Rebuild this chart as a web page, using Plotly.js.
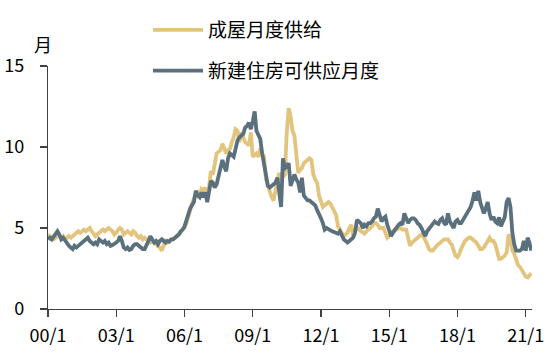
<!DOCTYPE html>
<html>
<head>
<meta charset="utf-8">
<script src="https://cdn.plot.ly/plotly-3.0.1.min.js"></script>
<style>html,body{margin:0;padding:0;background:#fff;}#chart{width:560px;height:356px;}</style>
</head>
<body>
<div id="chart"></div>
<script>
// Monthly data, 2000-01 .. 2021-04
var startYear = 2000;
var existingSupply = [ // 成屋月度供给
  4.6, 4.5, 4.4, 4.3, 4.4, 4.5, 4.5, 4.4, 4.5, 4.3, 4.4, 4.5,
  4.4, 4.5, 4.6, 4.7, 4.8, 4.7, 4.8, 4.9, 4.8, 4.9, 5.0, 4.8,
  4.6, 4.5, 4.6, 4.7, 4.8, 4.9, 4.8, 4.9, 5.0, 4.9, 4.8, 4.6,
  4.7, 4.9, 5.0, 4.9, 4.6, 4.7, 4.8, 4.7, 4.6, 4.8, 4.7, 4.5,
  4.4, 4.5, 4.3, 4.4, 4.3, 4.2, 4.1, 4.2, 4.1, 4.0, 3.9, 3.8,
  3.6, 3.9, 4.2, 4.1, 4.2, 4.3, 4.3, 4.4, 4.5, 4.6, 4.7, 4.9,
  5.0, 5.3, 5.8, 6.1, 6.5, 6.8, 7.1, 7.2, 7.0, 7.4, 7.3, 7.5,
  6.8, 7.6, 8.5, 8.3, 8.9, 9.6, 9.7, 9.8, 10.2, 9.9, 9.6, 9.8,
  9.9, 10.3, 10.6, 11.1, 11.0, 10.3, 10.9, 10.6, 10.3, 10.2, 10.1, 10.9,
  9.4, 9.5, 9.6, 9.4, 9.9, 9.6, 9.4, 8.0, 7.6, 7.2, 6.9, 6.7,
  7.3, 8.0, 8.4, 8.0, 8.2, 8.3, 10.9, 12.4, 11.9, 11.0, 10.7, 9.6,
  8.4, 8.6, 8.7, 9.0, 9.1, 9.2, 9.3, 9.2, 8.3, 8.0, 7.8, 7.0,
  6.6, 6.3, 6.4, 6.5, 6.6, 6.5, 6.3, 6.1, 5.8, 5.1, 4.9, 4.6,
  4.5, 4.6, 4.7, 5.0, 5.2, 4.5, 4.8, 5.1, 4.9, 4.8, 4.7, 4.65,
  4.8, 4.9, 5.0, 5.1, 5.3, 5.3, 5.2, 5.0, 5.0, 5.0, 4.7, 4.4,
  4.5, 4.6, 4.8, 4.9, 4.9, 5.0, 5.0, 4.9, 4.9, 4.9, 4.4, 3.9,
  4.1, 4.2, 4.3, 4.4, 4.5, 4.6, 4.5, 4.3, 4.0, 3.7, 3.6, 3.6,
  3.8, 3.9, 4.0, 4.1, 4.2, 4.3, 4.3, 4.3, 4.1, 4.0, 3.6, 3.3,
  3.2, 3.4, 3.7, 4.0, 4.2, 4.3, 4.4, 4.4, 4.3, 4.2, 4.1, 3.9,
  3.7, 3.7, 3.8, 4.0, 4.2, 4.4, 4.2, 4.2, 4.0, 3.6, 3.1, 3.1,
  3.2, 3.3, 3.5, 4.6, 4.3, 3.6, 3.4, 3.0, 2.7, 2.6, 2.4, 2.1,
  2.0, 1.95, 2.1, 2.2
];
var newSupply = [ // 新建住房可供应月度
  4.3, 4.4, 4.3, 4.5, 4.6, 4.8, 4.6, 4.3, 4.4, 4.2, 4.1, 3.9,
  3.8, 3.7, 3.9, 3.8, 3.9, 4.0, 4.1, 4.2, 4.3, 4.4, 4.2, 4.1,
  4.0, 4.1, 4.0, 4.3, 4.2, 4.1, 4.2, 4.0, 4.1, 3.9, 3.95, 4.0,
  4.1, 4.2, 4.5, 4.2, 3.8, 3.7, 3.8, 3.65, 3.7, 3.9, 4.0, 4.0,
  3.9, 3.8, 3.7, 3.7, 3.9, 4.2, 4.5, 4.3, 4.1, 4.2, 4.0, 4.2,
  4.3, 4.2, 4.1, 4.2, 4.15, 4.3, 4.3, 4.4, 4.5, 4.6, 4.8, 4.9,
  5.1, 5.5, 6.0, 6.2, 6.4, 6.6, 7.3, 7.0, 6.9, 7.2, 6.9, 7.2,
  6.6, 7.4, 7.9, 7.8, 7.5, 7.7, 8.2, 8.6, 9.2, 8.8, 8.5, 9.3,
  9.6, 9.5, 9.4, 9.9, 10.4, 10.6, 10.7, 10.8, 11.2, 11.3, 11.5, 11.1,
  11.6, 12.2, 11.0, 10.8, 10.5, 9.6, 9.0, 8.4, 7.6, 7.5, 7.6, 7.7,
  7.8, 8.1, 7.3, 6.3, 9.3, 8.7, 8.8, 9.0, 7.6, 8.0, 8.3, 8.0,
  7.8, 7.2, 8.1, 7.0, 6.8, 6.7, 6.7, 6.6, 6.5, 6.4, 6.1, 5.9,
  5.6, 5.3, 4.9, 5.0, 4.9, 4.85, 4.8, 4.75, 4.7, 4.65, 4.8, 4.5,
  4.3, 4.2, 4.1, 4.2, 4.3, 4.4, 4.7, 5.5, 5.4, 5.3, 5.0, 5.2,
  5.1, 5.3, 5.3, 5.4, 5.6, 5.7, 6.2, 5.8, 5.4, 5.6, 5.7, 5.2,
  4.9, 4.5, 4.7, 4.9, 5.1, 5.2, 5.3, 5.2, 5.9, 5.6, 5.3, 5.5,
  5.6, 5.6, 5.5, 5.3, 5.2, 5.0, 4.8, 4.5, 4.8, 5.0, 5.1, 5.25,
  5.4, 5.3, 5.25, 5.5, 5.6, 5.3, 5.2, 5.9, 5.4, 5.2, 5.0, 5.4,
  5.5, 5.3, 5.3, 5.5, 5.7, 6.0, 6.2, 6.3, 6.7, 7.2, 6.7, 7.3,
  6.6, 6.3, 5.9, 6.2, 6.6, 5.9, 5.5, 5.7, 5.4, 5.3, 5.65, 5.1,
  5.4, 5.7, 6.6, 6.85, 6.3, 4.7, 4.0, 3.6, 3.6, 3.6, 3.7, 4.2,
  3.6, 4.4, 4.1, 3.6
];
var seriesNames = ['成屋月度供给', '新建住房可供应月度'];
var tickDates = ['2000-01-01','2003-01-01','2006-01-01','2009-01-01','2012-01-01','2015-01-01','2018-01-01','2021-01-01'];
var tickLabels = ['00/1','03/1','06/1','09/1','12/1','15/1','18/1','21/1'];
var yTicks = [0, 5, 10, 15];
var yUnit = '月';

function monthDates(n) {
  var out = [];
  for (var i = 0; i < n; i++) {
    var y = startYear + Math.floor(i / 12);
    var m = (i % 12) + 1;
    out.push(y + '-' + (m < 10 ? '0' + m : m) + '-01');
  }
  return out;
}
var dates = monthDates(newSupply.length);

var FONT = '"Noto Sans CJK SC", "Noto Sans", sans-serif';

var traces = [
  {x: dates, y: existingSupply, name: seriesNames[0], type: 'scatter', mode: 'lines',
   line: {color: '#E2C47C', width: 3.8}, legendgroup: 'a'},
  {x: dates, y: newSupply, name: seriesNames[1], type: 'scatter', mode: 'lines',
   line: {color: '#5A707D', width: 3.8}, legendgroup: 'b'}
];

var layout = {
  width: 560, height: 356,
  margin: {l: 48, r: 28, t: 66, b: 46.5, pad: 0, autoexpand: false},
  paper_bgcolor: '#ffffff', plot_bgcolor: '#ffffff',
  font: {family: FONT, size: 18, color: '#000'},
  showlegend: true,
  legend: {
    xref: 'container', yref: 'container',
    x: 148/560, y: 1 - 11/356, xanchor: 'left', yanchor: 'top',
    orientation: 'v', traceorder: 'grouped', tracegroupgap: 13,
    font: {family: FONT, size: 19, color: '#000'},
    bgcolor: 'rgba(0,0,0,0)', itemwidth: 50
  },
  xaxis: {
    type: 'date', range: ['2000-01-01', '2021-04-12'],
    tickmode: 'array', tickvals: tickDates, ticktext: tickLabels, tickangle: 0,
    showgrid: false, zeroline: false, showline: true, linecolor: '#404040', linewidth: 1.2,
    ticks: 'outside', ticklen: 7, tickcolor: '#404040', tickwidth: 1.2,
    ticklabelstandoff: 3,
    tickfont: {family: FONT, size: 18, color: '#000'}
  },
  yaxis: {
    range: [0, 15], tickmode: 'array', tickvals: yTicks,
    showgrid: false, zeroline: false, showline: true, linecolor: '#404040', linewidth: 1.2,
    ticks: 'outside', ticklen: 7, tickcolor: '#404040', tickwidth: 1.2,
    ticklabelstandoff: 12,
    tickfont: {family: FONT, size: 18, color: '#000'}
  },
  annotations: [{
    text: yUnit, xref: 'paper', yref: 'paper', x: -0.01, y: 1.09,
    xanchor: 'center', yanchor: 'middle', showarrow: false,
    font: {family: FONT, size: 18, color: '#000'}
  }]
};

Plotly.newPlot('chart', traces, layout, {displayModeBar: false, staticPlot: true});
</script>
</body>
</html>
